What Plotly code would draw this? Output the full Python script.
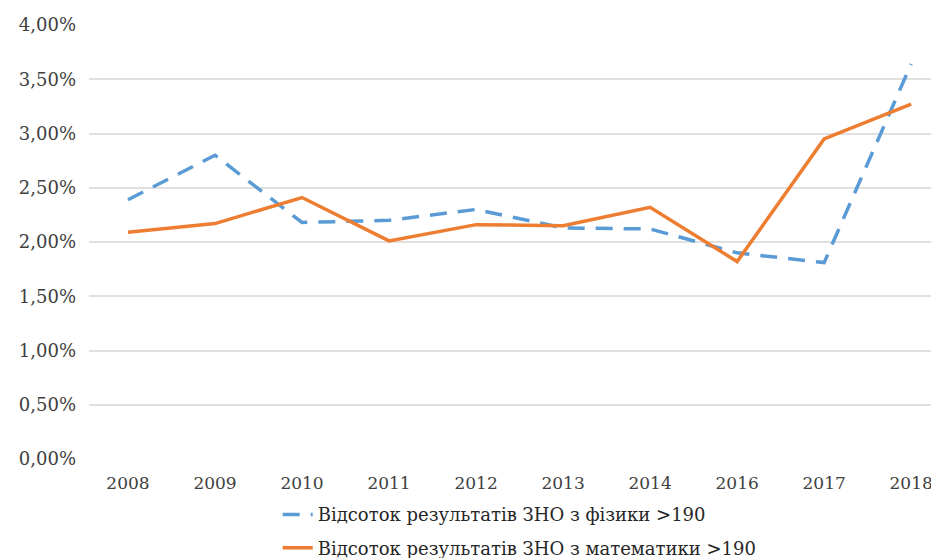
import plotly.graph_objects as go

years = ["2008", "2009", "2010", "2011", "2012", "2013", "2014", "2016", "2017", "2018"]
physics = [2.39, 2.80, 2.18, 2.20, 2.30, 2.13, 2.12, 1.90, 1.81, 3.64]
math = [2.09, 2.17, 2.41, 2.01, 2.16, 2.15, 2.32, 1.82, 2.95, 3.27]
tick_vals = [0, 0.5, 1.0, 1.5, 2.0, 2.5, 3.0, 3.5, 4.0]
tick_text = ["0,00%", "0,50%", "1,00%", "1,50%", "2,00%", "2,50%", "3,00%", "3,50%", "4,00%"]

name_phys = "Відсоток результатів ЗНО з фізики >190"
name_math = "Відсоток результатів ЗНО з математики >190"

font_family = "DejaVu Serif"

fig = go.Figure()
fig.add_trace(go.Scatter(x=list(range(len(years))), y=physics, mode="lines", name=name_phys,
                         legendgroup="a",
                         line=dict(color="#5B9BD5", width=3.5, dash="17px,11px")))
fig.add_trace(go.Scatter(x=list(range(len(years))), y=math, mode="lines", name=name_math,
                         legendgroup="b",
                         line=dict(color="#ED7D31", width=3.5)))

fig.update_layout(
    width=939, height=558,
    margin=dict(l=81, r=8, t=17, b=107, autoexpand=False),
    paper_bgcolor="white", plot_bgcolor="white",
    font=dict(family=font_family, size=17, color="#404040"),
    showlegend=True,
    legend=dict(orientation="v", x=0.222, xanchor="left", yref="container", y=0.125, yanchor="top",
                font=dict(family=font_family, size=18, color="#262626"),
                traceorder="grouped", tracegroupgap=7, bgcolor="rgba(0,0,0,0)"),
    xaxis=dict(range=[-0.448, 9.32], tickvals=list(range(len(years))), ticktext=years,
               showgrid=False, zeroline=False, showline=False, ticks="",
               ticklabelstandoff=12, automargin=False,
               tickfont=dict(family=font_family, size=17, color="#404040")),
    yaxis=dict(range=[0, 4.0], tickvals=tick_vals, ticktext=tick_text,
               showgrid=True, gridcolor="#E0E0E0", gridwidth=1.5, zeroline=False,
               showline=False, ticks="", ticklabelstandoff=12, automargin=False,
               tickfont=dict(family=font_family, size=18, color="#404040")),
)

fig.write_html("out.html")
